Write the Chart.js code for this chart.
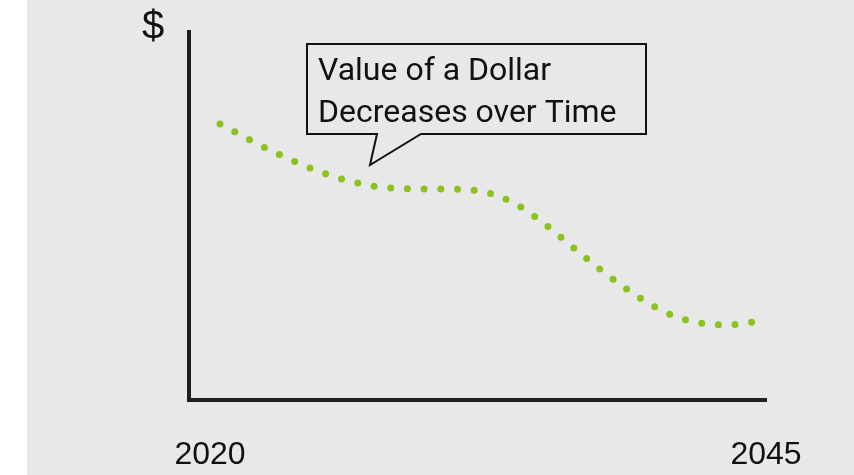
<!DOCTYPE html>
<html>
<head>
<meta charset="utf-8">
<script src="https://cdn.jsdelivr.net/npm/chart.js@4"></script>
<style>
  html, body { margin: 0; padding: 0; background: #ffffff; }
  #wrap { position: relative; width: 854px; height: 475px; }
  #panel { position: absolute; left: 27px; top: 0; width: 827px; height: 475px; background: #e8e8e8; }
  #myChart { position: absolute; left: 0; top: 0; }
</style>
</head>
<body>
<div id="wrap">
  <div id="panel"></div>
  <canvas id="myChart" width="854" height="475"></canvas>
</div>
<script>
// value of a dollar (y on a 0-100 scale)
const years = [2020.45, 2022.97, 2025.89, 2028.18, 2030.52, 2032.1, 2033.58, 2034.88, 2036.68, 2038.53, 2040.55, 2042.04, 2043.2, 2044.42];
const values = [75.0, 67.1, 60.1, 57.6, 57.3, 56.8, 53.8, 48.6, 39.7, 31.0, 23.6, 20.9, 20.4, 21.2];
const tickYears = [2020, 2045];
const calloutLines = ['Value of a Dollar', 'Decreases over Time'];
const yLabel = '$';

const green = '#8cc21f';
const ink = '#1e1e1e';

const points = years.map((y, i) => ({ x: y, y: values[i] }));

// "$" over the axis and the speech bubble
const extras = {
  id: 'extras',
  afterDraw(chart) {
    const ctx = chart.ctx;
    ctx.save();
    ctx.fillStyle = '#111';
    ctx.font = '40px "Liberation Sans", Arial, sans-serif';
    ctx.textAlign = 'center';
    ctx.textBaseline = 'middle';
    ctx.fillText(yLabel, 153, 28);

    // bubble
    ctx.beginPath();
    ctx.moveTo(307, 44);
    ctx.lineTo(646, 44);
    ctx.lineTo(646, 134);
    ctx.lineTo(421, 134);
    ctx.lineTo(370, 165);
    ctx.lineTo(377, 134);
    ctx.lineTo(307, 134);
    ctx.closePath();
    ctx.fillStyle = '#e8e8e8';
    ctx.fill();
    ctx.lineWidth = 2;
    ctx.strokeStyle = '#111';
    ctx.stroke();

    ctx.fillStyle = '#111';
    ctx.font = '32px Roboto, sans-serif';
    ctx.textAlign = 'left';
    ctx.textBaseline = 'alphabetic';
    ctx.fillText(calloutLines[0], 318, 80);
    ctx.fillText(calloutLines[1], 318, 122);
    ctx.restore();
  }
};

new Chart(document.getElementById('myChart'), {
  type: 'line',
  data: {
    datasets: [{
      data: points,
      borderColor: green,
      borderWidth: 7,
      borderDash: [0, 16.7],
      borderCapStyle: 'round',
      cubicInterpolationMode: 'monotone',
      pointRadius: 0,
      fill: false,
    }]
  },
  options: {
    responsive: false,
    animation: false,
    layout: { padding: { left: 189, right: 88, top: 32, bottom: 0 } },
    plugins: { legend: { display: false }, tooltip: { enabled: false } },
    scales: {
      x: {
        type: 'linear',
        min: 2019.056,
        max: 2045,
        grid: { display: false, drawTicks: false },
        border: { display: true, color: ink, width: 4 },
        afterBuildTicks: (s) => { s.ticks = tickYears.map(v => ({ value: v })); },
        afterFit: (s) => { s.height = 75; },
        ticks: {
          color: '#111',
          padding: 36,
          maxRotation: 0,
          font: { family: '"Liberation Sans", Arial, sans-serif', size: 32 },
          callback: (v) => String(v),
        }
      },
      y: {
        min: 0,
        max: 100,
        grid: { display: false, drawTicks: false },
        border: { display: true, color: ink, width: 4 },
        ticks: { display: false },
        afterFit: (s) => { s.width = 0; },
      }
    }
  },
  plugins: [extras]
});
</script>
</body>
</html>
